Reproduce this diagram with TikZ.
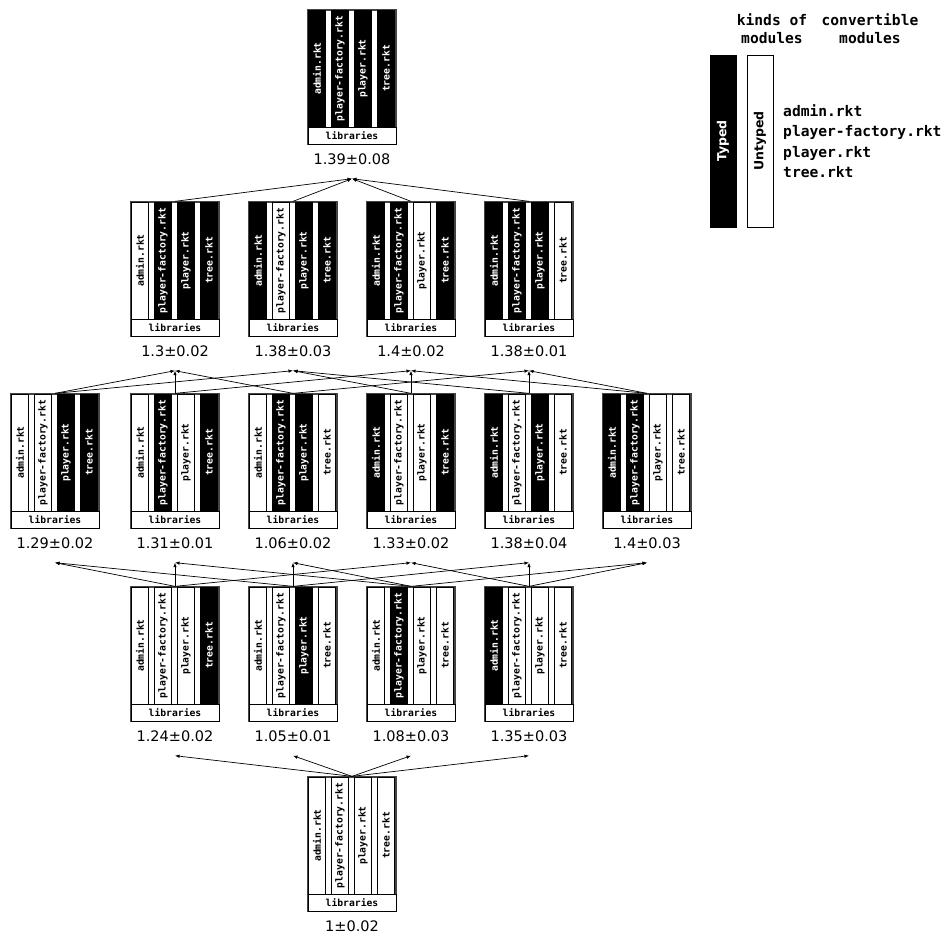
\documentclass[tikz,border=0pt]{standalone}
\usepackage{fontspec}
\setmainfont{DejaVu Sans}
\setmonofont{DejaVu Sans Mono}
\usetikzlibrary{arrows.meta}
\definecolor{FrameGray}{HTML}{444444}

\tikzset{
  cfgframe/.style={draw=FrameGray,line width=1.3pt,minimum width=88pt,
    minimum height=134pt,inner sep=0pt},
  modbar/.style={draw=black,line width=0.6pt,rotate=90,minimum width=117pt,
    minimum height=17pt,inner sep=0pt,font=\fontsize{9.7}{10}\selectfont\ttfamily\bfseries},
  bar0/.style={fill=white,text=black},
  bar1/.style={fill=black,text=white},
  libbar/.style={draw=black,line width=0.6pt,fill=white,minimum width=88pt,
    minimum height=17pt,inner sep=0pt,font=\fontsize{9.7}{10}\selectfont\ttfamily\bfseries},
  val/.style={inner xsep=0pt,inner ysep=14pt,font=\fontsize{14.5}{16}\selectfont},
  edge/.style={line width=0.7pt,-{Latex[length=4.5pt,width=3.5pt]}},
  keybar/.style={draw=black,line width=0.8pt,rotate=90,minimum width=172pt,
    minimum height=26pt,inner sep=0pt,font=\fontsize{12.5}{14}\selectfont\bfseries},
  keytext/.style={inner sep=0pt,font=\fontsize{14.6}{18}\selectfont\ttfamily\bfseries},
}

\newcommand{\cfgbox}[5]{%
  \node[cfgframe] (c#1) at (#2,{#3+67}) {};
  \foreach \m [count=\i from 0] in {admin.rkt,player-factory.rkt,player.rkt,tree.rkt}{
    \pgfmathtruncatemacro\k{{#4}[\i]}
    \node[modbar,bar\k] (c#1-\i) at ({#2-35+23*\i},{#3+58.5}) {\m};
  }
  \node[libbar] (c#1-lib) at (#2,{#3+125.5}) {libraries};
  \node[val] (v#1) at (#2,{#3+149}) {#5};
}

\begin{document}
\begin{tikzpicture}[x=1pt,y=-1pt]
    \useasboundingbox (0,0) rectangle (944,934);
    \cfgbox{1111}{352}{10}{1,1,1,1}{1.39±0.08}
    \cfgbox{0111}{175}{202}{0,1,1,1}{1.3±0.02}
    \cfgbox{1011}{293}{202}{1,0,1,1}{1.38±0.03}
    \cfgbox{1101}{411}{202}{1,1,0,1}{1.4±0.02}
    \cfgbox{1110}{529}{202}{1,1,1,0}{1.38±0.01}
    \cfgbox{0011}{55}{394}{0,0,1,1}{1.29±0.02}
    \cfgbox{0101}{175}{394}{0,1,0,1}{1.31±0.01}
    \cfgbox{0110}{293}{394}{0,1,1,0}{1.06±0.02}
    \cfgbox{1001}{411}{394}{1,0,0,1}{1.33±0.02}
    \cfgbox{1010}{529}{394}{1,0,1,0}{1.38±0.04}
    \cfgbox{1100}{647}{394}{1,1,0,0}{1.4±0.03}
    \cfgbox{0001}{175}{587}{0,0,0,1}{1.24±0.02}
    \cfgbox{0010}{293}{587}{0,0,1,0}{1.05±0.01}
    \cfgbox{0100}{411}{587}{0,1,0,0}{1.08±0.03}
    \cfgbox{1000}{529}{587}{1,0,0,0}{1.35±0.03}
    \cfgbox{0000}{352}{777}{0,0,0,0}{1±0.02}
    \foreach \a/\b in {0000/0001,0000/0010,0000/0100,0000/1000,
      0001/0011,0001/0101,0001/1001,0010/0011,0010/0110,0010/1010,
      0100/0101,0100/0110,0100/1100,1000/1001,1000/1010,1000/1100,
      0011/0111,0011/1011,0101/0111,0101/1101,0110/0111,0110/1110,
      1001/1011,1001/1101,1010/1011,1010/1110,1100/1101,1100/1110,
      0111/1111,1011/1111,1101/1111,1110/1111}{
      \draw[edge] (c\a.north) -- (v\b.south);
    }
    \node[keybar,fill=black,text=white] (typed) at (723,141) {Typed};
    \node[keybar,fill=white] (untyped) at (760,141) {Untyped};
    \node[keytext,align=left,anchor=west,font=\fontsize{14.6}{20.5}\selectfont\ttfamily\bfseries]
      (files) at (783,141) {admin.rkt\\player-factory.rkt\\player.rkt\\tree.rkt};
    \node[keytext,align=center] (kinds) at (772,29) {kinds of\\modules};
    \node[keytext,align=center] (convertible) at (870,29) {convertible\\modules};
\end{tikzpicture}
\end{document}
